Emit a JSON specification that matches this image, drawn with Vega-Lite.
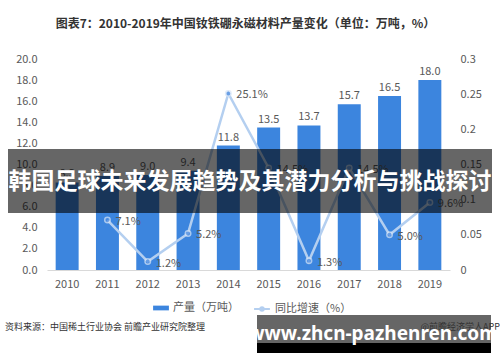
{
  "$schema": "https://vega.github.io/schema/vega-lite/v6.json",
  "width": 403,
  "height": 211,
  "autosize": {"type": "none"},
  "padding": {"left": 47, "top": 59, "right": 50, "bottom": 92},
  "background": "white",
  "title": {
    "text": "图表7：2010-2019年中国钕铁硼永磁材料产量变化（单位：万吨，%）",
    "fontSize": 12,
    "font": "Noto Sans CJK SC",
    "fontWeight": "bold",
    "color": "#333333",
    "offset": 22,
    "anchor": "middle",
    "dx": -3
  },
  "data": {
    "values": [
      {"year": "2010", "output": 8.3, "growth": null},
      {"year": "2011", "output": 8.9, "growth": 0.071},
      {"year": "2012", "output": 9.0, "growth": 0.012},
      {"year": "2013", "output": 9.4, "growth": 0.052},
      {"year": "2014", "output": 11.8, "growth": 0.251},
      {"year": "2015", "output": 13.5, "growth": 0.145},
      {"year": "2016", "output": 13.7, "growth": 0.013},
      {"year": "2017", "output": 15.7, "growth": 0.145},
      {"year": "2018", "output": 16.5, "growth": 0.05},
      {"year": "2019", "output": 18.0, "growth": 0.096}
    ]
  },
  "encoding": {
    "x": {
      "field": "year",
      "type": "ordinal",
      "scale": {"paddingInner": 0.43, "paddingOuter": 0.215},
      "axis": {
        "title": null,
        "labelAngle": 0,
        "ticks": false,
        "domainColor": "#d9d9d9",
        "labelColor": "#595959",
        "labelFontSize": 11,
        "labelPadding": 8
      }
    }
  },
  "layer": [
    {
      "layer": [
        {
          "mark": {"type": "bar", "color": "#3C85DE"},
          "encoding": {
            "y": {
              "field": "output",
              "type": "quantitative",
              "scale": {"domain": [0, 20]},
              "axis": {
                "title": null,
                "format": ".1f",
                "tickCount": 10,
                "domain": false,
                "ticks": false,
                "grid": false,
                "labelColor": "#595959",
                "labelFontSize": 11,
                "labelPadding": 10
              }
            },
            "color": {
              "datum": "产量（万吨）",
              "scale": {"range": ["#3C85DE"]},
              "legend": {
                "title": null,
                "orient": "none",
                "legendX": 106,
                "legendY": 241,
                "symbolType": "M-1,-0.3H1V0.3H-1Z",
                "symbolSize": 250,
                "symbolStrokeWidth": 0,
                "labelFontSize": 11,
                "labelColor": "#595959"
              }
            }
          }
        },
        {
          "mark": {"type": "text", "dy": -8, "fontSize": 11, "color": "#595959"},
          "encoding": {
            "y": {"field": "output", "type": "quantitative"},
            "text": {"field": "output", "type": "quantitative", "format": ".1f"}
          }
        }
      ]
    },
    {
      "transform": [{"filter": "datum.growth != null"}],
      "layer": [
        {
          "mark": {"type": "line", "strokeWidth": 2.5},
          "encoding": {
            "y": {
              "field": "growth",
              "type": "quantitative",
              "scale": {"domain": [0, 0.3]},
              "axis": {
                "title": null,
                "orient": "right",
                "format": ".2~f",
                "tickCount": 6,
                "domain": false,
                "ticks": false,
                "grid": false,
                "labelColor": "#595959",
                "labelFontSize": 11,
                "labelPadding": 10
              }
            },
            "stroke": {
              "datum": "同比增速（%）",
              "scale": {"range": ["#B4CFF0"]},
              "legend": {
                "title": null,
                "orient": "none",
                "legendX": 206,
                "legendY": 241,
                "symbolType": "M-1,0H1M0.22,0A0.22,0.22,0,1,1,-0.22,0A0.22,0.22,0,1,1,0.22,0Z",
                "symbolFillColor": "#4A8AE0",
                "symbolStrokeWidth": 2,
                "symbolSize": 250,
                "labelFontSize": 11,
                "labelColor": "#595959"
              }
            }
          }
        },
        {
          "mark": {"type": "point", "filled": true, "size": 30, "color": "#4A8AE0", "stroke": "#D6E5F7", "strokeWidth": 1.5},
          "encoding": {
            "y": {"field": "growth", "type": "quantitative"}
          }
        },
        {
          "mark": {"type": "text", "align": "left", "dx": 8, "dy": 2, "fontSize": 11, "color": "#595959"},
          "encoding": {
            "y": {"field": "growth", "type": "quantitative"},
            "text": {"field": "growth", "type": "quantitative", "format": ".1%"}
          }
        }
      ]
    },
    {
      "data": {"values": [{"t": "韩国足球未来发展趋势及其潜力分析与挑战探讨"}]},
      "layer": [
        {
          "mark": {"type": "rect", "color": "#000000", "opacity": 0.6},
          "encoding": {
            "x": {"value": -39},
            "x2": {"value": 445},
            "y": {"value": 90},
            "y2": {"value": 154}
          }
        },
        {
          "mark": {"type": "text", "color": "white", "fontSize": 23, "fontWeight": "bold", "font": "Noto Sans CJK SC", "align": "center", "baseline": "middle"},
          "encoding": {
            "x": {"value": 203},
            "y": {"value": 123},
            "text": {"field": "t"}
          }
        }
      ]
    },
    {
      "data": {"values": [{"src": "资料来源：中国稀土行业协会 前瞻产业研究院整理", "app": "@前瞻经济学人APP", "url": "www.zhcn-pazhenren.com"}]},
      "layer": [
        {
          "mark": {"type": "text", "align": "left", "baseline": "middle", "fontSize": 9, "color": "#333333"},
          "encoding": {"x": {"value": -42}, "y": {"value": 268}, "text": {"field": "src"}}
        },
        {
          "mark": {"type": "rect", "color": "#666666"},
          "encoding": {"x": {"value": 210}, "x2": {"value": 444}, "y": {"value": 256}, "y2": {"value": 284}}
        },
        {
          "mark": {"type": "rect", "color": "#000000"},
          "encoding": {"x": {"value": 210}, "x2": {"value": 444}, "y": {"value": 284}, "y2": {"value": 294}}
        },
        {
          "mark": {"type": "text", "align": "right", "baseline": "middle", "fontSize": 9, "color": "#333333"},
          "encoding": {"x": {"value": 453}, "y": {"value": 268}, "text": {"field": "app"}}
        },
        {
          "mark": {"type": "text", "align": "center", "baseline": "middle", "fontSize": 19, "fontWeight": "bold", "font": "Noto Sans", "color": "white"},
          "encoding": {"x": {"value": 326}, "y": {"value": 275}, "text": {"field": "url"}}
        }
      ]
    }
  ],
  "resolve": {"scale": {"y": "independent"}},
  "config": {
    "view": {"stroke": null},
    "font": "Noto Sans CJK SC",
    "axis": {"grid": false},
    "legend": {"labelFont": "Noto Sans CJK SC"}
  }
}
